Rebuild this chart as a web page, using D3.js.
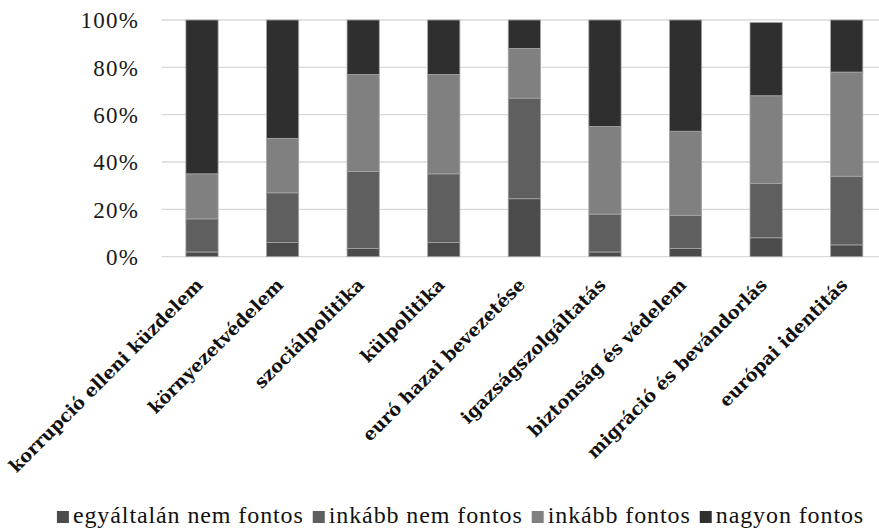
<!DOCTYPE html>
<html>
<head>
<meta charset="utf-8">
<script src="https://cdn.jsdelivr.net/npm/d3@7"></script>
<style>
  body { margin: 0; background: #fff; }
  svg { display: block; font-family: "Liberation Serif", "DejaVu Serif", serif; }
</style>
</head>
<body>
<div id="output"></div>
<script>
// values (percent)
const categories = ["korrupció elleni küzdelem", "környezetvédelem", "szociálpolitika", "külpolitika",
  "euró hazai bevezetése", "igazságszolgáltatás", "biztonság és védelem", "migráció és bevándorlás", "európai identitás"];
const seriesNames = ["egyáltalán nem fontos", "inkább nem fontos", "inkább fontos", "nagyon fontos"];
const egyaltalanNem = [2, 6, 3.5, 6, 24.5, 2, 3.5, 8, 5];
const inkabbNem = [14, 21, 32.5, 29, 42.5, 16, 14, 23, 29];
const inkabbFontos = [19, 23, 41, 42, 21, 37, 35.5, 37, 44];
const nagyonFontos = [65, 50, 23, 23, 12, 45, 47, 31, 22];
const yTicks = [0, 20, 40, 60, 80, 100];

const width = 879, height = 532;
const colors = ["#4b4b4b", "#5f5f5f", "#808080", "#2f2f2f"];

const rows = categories.map((c, i) => ({
  cat: c,
  [seriesNames[0]]: egyaltalanNem[i],
  [seriesNames[1]]: inkabbNem[i],
  [seriesNames[2]]: inkabbFontos[i],
  [seriesNames[3]]: nagyonFontos[i]
}));
const stacked = d3.stack().keys(seriesNames)(rows);

const x = d3.scaleBand()
  .domain(categories)
  .range([161.7, 887])
  .paddingInner(0.6)
  .paddingOuter(0.3);
const y = d3.scaleLinear().domain([0, 100]).range([256.7, 20]);
const color = d3.scaleOrdinal(seriesNames, colors);

const svg = d3.select("#output").append("svg")
  .attr("width", width)
  .attr("height", height);

// gridlines
svg.append("g")
  .selectAll("line")
  .data(yTicks)
  .join("line")
  .attr("x1", 161.7)
  .attr("x2", width)
  .attr("y1", d => y(d))
  .attr("y2", d => y(d))
  .attr("stroke", "#d9d9d9")
  .attr("stroke-width", 1.3);

// y labels
svg.append("g")
  .selectAll("text")
  .data(yTicks)
  .join("text")
  .attr("x", 139)
  .attr("y", d => y(d))
  .attr("dy", "0.36em")
  .attr("text-anchor", "end")
  .attr("font-size", 23)
  .attr("letter-spacing", 1.2)
  .attr("fill", "#1a1a1a")
  .text(d => d + "%");

// bars
svg.append("g")
  .selectAll("g")
  .data(stacked)
  .join("g")
  .attr("fill", d => color(d.key))
  .selectAll("rect")
  .data(d => d)
  .join("rect")
  .attr("x", d => x(d.data.cat))
  .attr("width", x.bandwidth())
  .attr("y", d => y(d[1]))
  .attr("height", d => y(d[0]) - y(d[1]))
  .attr("stroke", "#a6a6a6")
  .attr("stroke-width", 0.8);

// category labels
svg.append("g")
  .selectAll("text")
  .data(categories)
  .join("text")
  .attr("transform", d => `translate(${x(d) + x.bandwidth() / 2 + 2},${286}) rotate(-45)`)
  .attr("text-anchor", "end")
  .attr("font-family", "'DejaVu Serif', serif")
  .attr("font-size", 18)
  .attr("font-weight", "bold")
  .attr("fill", "#111")
  .text(d => d);

// legend
const legend = svg.append("g").attr("font-size", 24).attr("letter-spacing", 0.9).attr("fill", "#111");
const items = legend.selectAll("g")
  .data(seriesNames)
  .join("g");
items.append("rect")
  .attr("width", 12)
  .attr("height", 12)
  .attr("y", 511)
  .attr("fill", d => color(d));
items.append("text")
  .attr("x", 16)
  .attr("y", 523)
  .text(d => d);

let cursor = 0;
items.each(function () {
  const g = d3.select(this);
  g.attr("transform", `translate(${cursor},0)`);
  cursor += 16 + g.select("text").node().getComputedTextLength() + 9;
});
const total = cursor - 9;
legend.attr("transform", `translate(${460.5 - total / 2},0)`);
</script>
</body>
</html>
